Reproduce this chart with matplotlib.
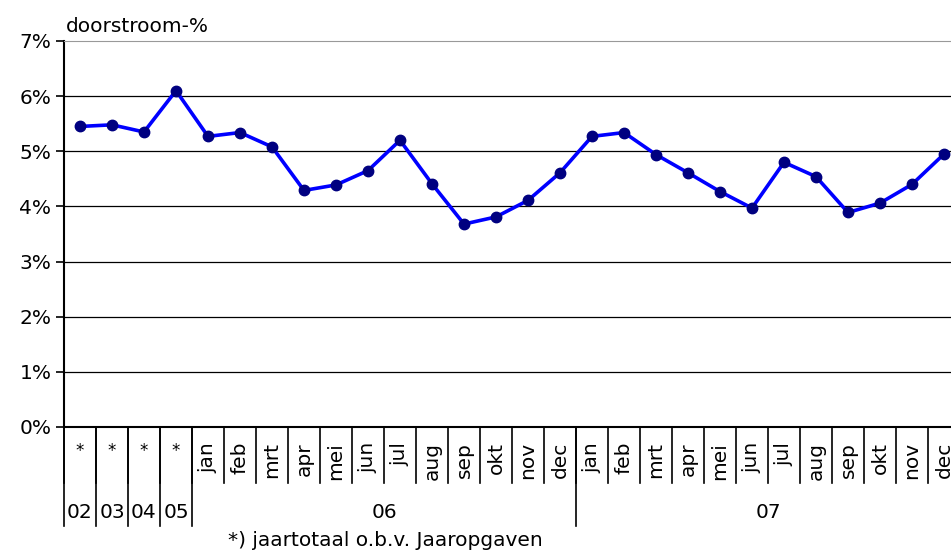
import matplotlib
matplotlib.use("Agg")
import matplotlib.pyplot as plt
from matplotlib.ticker import FuncFormatter

# categorieen en waarden (doorstroom in %)
maanden = ["*", "*", "*", "*",
           "jan", "feb", "mrt", "apr", "mei", "jun", "jul", "aug", "sep", "okt", "nov", "dec",
           "jan", "feb", "mrt", "apr", "mei", "jun", "jul", "aug", "sep", "okt", "nov", "dec"]
doorstroom = [5.45, 5.48, 5.35, 6.10,
              5.27, 5.34, 5.08, 4.29, 4.39, 4.65, 5.20, 4.41, 3.68, 3.81, 4.11, 4.61,
              5.27, 5.34, 4.94, 4.61, 4.27, 3.97, 4.80, 4.54, 3.89, 4.06, 4.40, 4.95]
jaren = ["02", "03", "04", "05", "06", "07"]
jaar_start = [0, 1, 2, 3, 4, 16]
jaar_eind = [0, 1, 2, 3, 15, 27]

W, H = 951, 556
fig = plt.figure(figsize=(W / 100, H / 100), dpi=100)
ax_h = 386
ax = fig.add_axes([64 / W, (H - 427) / H, 896 / W, ax_h / H])

x = list(range(len(maanden)))
ax.plot(x, doorstroom, color="#0000FF", lw=2.6, marker="o", ms=7.5,
        mfc="#000080", mec="#000080", zorder=3)

ax.set_xlim(-0.5, len(maanden) - 0.5)
ax.set_ylim(0, 7)
ax.set_yticks(range(0, 8))
ax.yaxis.set_major_formatter(FuncFormatter(lambda v, p: f"{int(v)}%"))
ax.tick_params(axis="y", labelsize=14.5, length=6, width=1.2, direction="out", pad=3)
ax.set_xticks([])
for v in range(1, 7):
    ax.axhline(v, color="black", lw=0.9, zorder=1)

ax.spines["right"].set_visible(False)
ax.spines["top"].set_color("#999999")
ax.spines["left"].set_linewidth(1.5)
ax.spines["bottom"].set_linewidth(1.5)

tr = ax.get_xaxis_transform()

# maandlabels en scheidingslijnen
for i, m in enumerate(maanden):
    if m == "*":
        ax.text(i, -24 / ax_h, m, transform=tr, ha="center", va="center", fontsize=12)
    else:
        ax.text(i, -15 / ax_h, m, transform=tr, ha="center", va="top",
                rotation=90, fontsize=14.5)
    ax.plot([i - 0.5, i - 0.5], [0, -56 / ax_h], transform=tr, color="black",
            lw=1.2, clip_on=False)
ax.plot([len(maanden) - 0.5] * 2, [0, -56 / ax_h], transform=tr, color="black",
        lw=1.2, clip_on=False)

# jaarlabels
for j, s, e in zip(jaren, jaar_start, jaar_eind):
    ax.text((s + e) / 2, -86 / ax_h, j, transform=tr, ha="center", va="center",
            fontsize=14.5)
    ax.plot([s - 0.5, s - 0.5], [0, -99 / ax_h], transform=tr, color="black",
            lw=1.2, clip_on=False)

fig.text(66 / W, 1 - 26 / H, "doorstroom-%", ha="left", va="center", fontsize=14.5)
fig.text(385 / W, 1 - 541 / H, "*) jaartotaal o.b.v. Jaaropgaven", ha="center",
         va="center", fontsize=14.5)

fig.savefig("out.png", dpi=100)
